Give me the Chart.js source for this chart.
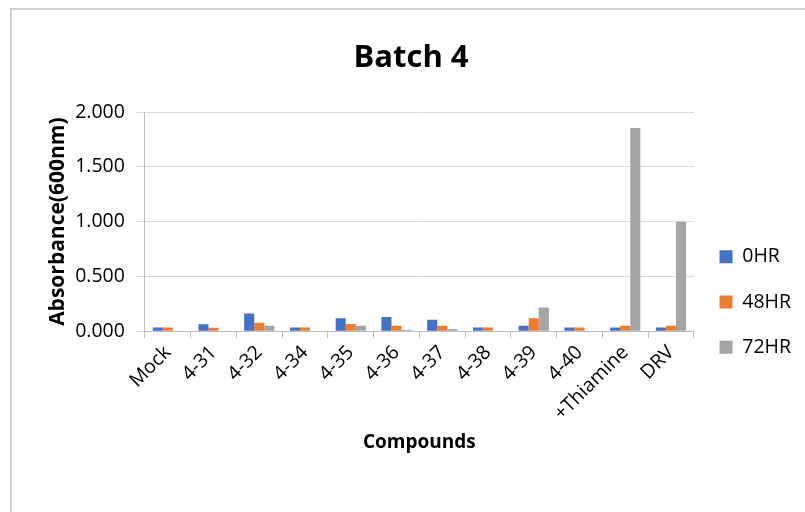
<!DOCTYPE html>
<html>
<head>
<meta charset="utf-8">
<title>Batch 4</title>
<script src="https://cdn.jsdelivr.net/npm/chart.js@4/dist/chart.umd.min.js"></script>
<style>
  html, body { margin: 0; padding: 0; background: #ffffff; }
  #wrap { position: relative; width: 805px; height: 512px; overflow: hidden; }
  #frame {
    position: absolute; left: 10px; top: 8px; right: -4px; bottom: -4px;
    border-left: 2px solid #d0d0d0; border-top: 2px solid #d0d0d0;
    pointer-events: none;
  }
  canvas { position: absolute; left: 0; top: 0; }
</style>
</head>
<body>
<div id="wrap">
  <canvas id="chart" width="805" height="512"></canvas>
  <div id="frame"></div>
</div>
<script>
// Compounds tested in batch 4
const compounds = ['Mock', '4-31', '4-32', '4-34', '4-35', '4-36', '4-37', '4-38', '4-39', '4-40', '+Thiamine', 'DRV'];

// Absorbance at 600 nm for each time point
const hr0  = [0.033, 0.062, 0.160, 0.033, 0.117, 0.130, 0.105, 0.033, 0.049, 0.033, 0.033, 0.033];
const hr48 = [0.033, 0.031, 0.077, 0.033, 0.065, 0.049, 0.049, 0.033, 0.117, 0.033, 0.049, 0.049];
const hr72 = [null, null, 0.049, null, 0.049, 0.012, 0.020, null, 0.216, null, 1.855, 1.000];

const seriesNames = ['0HR', '48HR', '72HR'];
const yTicks = [0, 0.5, 1.0, 1.5, 2.0];

const FONT = "'Open Sans', 'Liberation Sans', sans-serif";

new Chart(document.getElementById('chart'), {
  type: 'bar',
  data: {
    labels: compounds,
    datasets: [
      { label: seriesNames[0], data: hr0,  backgroundColor: '#4472C4' },
      { label: seriesNames[1], data: hr48, backgroundColor: '#ED7D31' },
      { label: seriesNames[2], data: hr72, backgroundColor: '#A5A5A5' }
    ]
  },
  options: {
    responsive: false,
    animation: false,
    layout: { padding: { left: 21, right: 4, top: 0, bottom: 0 } },
    datasets: { bar: { categoryPercentage: 0.66, barPercentage: 1.0 } },
    plugins: {
      title: {
        display: true,
        text: 'Batch 4',
        color: '#000000',
        font: { family: FONT, size: 31, weight: 'bold' },
        padding: { top: 40, bottom: 35 }
      },
      legend: {
        position: 'right',
        title: { display: true, text: ' ', font: { size: 10 }, padding: { top: 80, bottom: 0 } },
        labels: {
          boxWidth: 13,
          boxHeight: 13,
          padding: 25.7,
          color: '#000000',
          font: { family: FONT, size: 19.5 }
        }
      },
      tooltip: { enabled: false }
    },
    scales: {
      x: {
        offset: true,
        grid: {
          offset: true,
          drawOnChartArea: false,
          drawTicks: true,
          tickLength: 7,
          color: '#bfbfbf'
        },
        border: { color: '#bfbfbf', width: 1 },
        ticks: {
          autoSkip: false,
          minRotation: 45,
          maxRotation: 45,
          padding: 3,
          color: '#000000',
          font: { family: FONT, size: 19.5 }
        },
        title: {
          display: true,
          text: 'Compounds',
          color: '#000000',
          font: { family: FONT, size: 19, weight: 'bold' },
          padding: { top: 3, bottom: 58 }
        }
      },
      y: {
        min: 0,
        max: 2,
        afterBuildTicks: (scale) => { scale.ticks = yTicks.map(v => ({ value: v })); },
        grid: {
          color: '#d9d9d9',
          drawTicks: true,
          tickLength: 8
        },
        border: { color: '#bfbfbf', width: 1 },
        ticks: {
          padding: 12,
          color: '#000000',
          font: { family: FONT, size: 19.5 },
          callback: (v) => Number(v).toFixed(3)
        },
        title: {
          display: true,
          text: 'Absorbance(600nm)',
          color: '#000000',
          font: { family: FONT, size: 21, weight: 'bold' },
          padding: { top: 24, bottom: -7 }
        }
      }
    }
  }
});
</script>
</body>
</html>
